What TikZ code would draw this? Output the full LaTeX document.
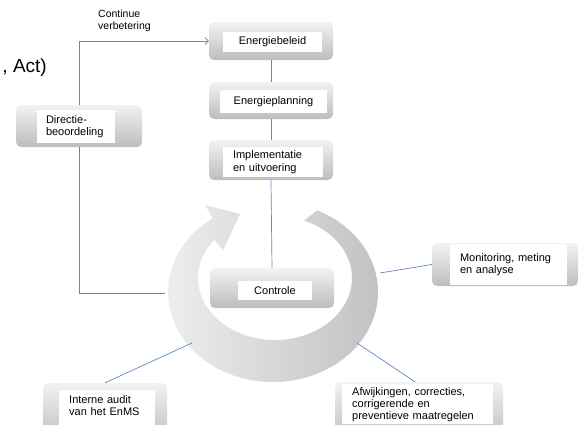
\documentclass[tikz,border=0pt]{standalone}
\usepackage{fontspec}
\setmainfont{Liberation Sans}
\usetikzlibrary{arrows.meta,calc}
\definecolor{linkblue}{RGB}{92,136,196}
\newcommand\dlabelfont{\fontsize{11}{12.5}\selectfont}
\begin{document}
\begin{tikzpicture}[x=1pt,y=-1pt,
  gbox/.style={rounded corners=5pt, top color=black!5, bottom color=black!26, draw=none, inner sep=0},
  wbox/.style={fill=white, draw=none, inner sep=0, font=\dlabelfont},
  wtext/.style={fill=white, draw=none, font=\fontsize{11}{12}\selectfont, align=left, inner xsep=10, inner ysep=3, anchor=north west},
  conn/.style={draw=linkblue, line width=0.7pt},
]
\useasboundingbox (0,0) rectangle (582,424);
\clip (0,0) rectangle (582,424);

% title fragment
\node[anchor=base east, inner sep=0, font=\fontsize{19}{22}\selectfont] (title) at (47,72) {, Act)};
\node[anchor=north west, inner sep=0, align=left, font=\fontsize{10.5}{11.5}\selectfont] (cv) at (98,10) {Continue\\verbetering};

% circular arrow
\shade[left color=black!6, right color=black!25]
  ([shift={(273,292)}]-65:105 and 90)
  arc[start angle=-65, end angle=235, x radius=105, y radius=90]
  -- (205,205) -- (240,214) -- (223,250)
  -- ([shift={(275,278)}]218:77 and 62)
  arc[start angle=218, end angle=-68, x radius=77, y radius=62]
  -- cycle;

\coordinate (rL) at (165,293);
\coordinate (rR) at (380,273);
\coordinate (rBR) at (357,343);
\coordinate (rBL) at (192,343);

% boxes
\node[gbox, minimum width=126, minimum height=42] (dir) at (79,126) {};
\node[wbox, minimum width=78, minimum height=33, text width=60, align=left] (dirt) at (76,126.5) {Directie-\\beoordeling};

\node[gbox, minimum width=124, minimum height=38] (eb) at (271,41) {};
\node[wbox, minimum width=99, minimum height=20] (ebt) at (272.5,42) {Energiebeleid};

\node[gbox, minimum width=124, minimum height=37] (ep) at (271,100.5) {};
\node[wbox, minimum width=107, minimum height=23] (ept) at (273.5,101.5) {Energieplanning};

\node[gbox, minimum width=124, minimum height=40] (im) at (271,160) {};
\node[wbox, minimum width=100, minimum height=30, text width=80, align=left] (imt) at (273,162) {Implementatie\\en uitvoering};

\node[gbox, minimum width=124, minimum height=40] (co) at (272,288) {};
\node[wbox, minimum width=74, minimum height=19] (cot) at (275,290.5) {Controle};

\node[gbox, minimum width=146, minimum height=43] (mon) at (505,264.5) {};
\node[wbox, minimum width=117, minimum height=41, text width=97, align=left] (mont) at (508.5,264.5) {Monitoring, meting\\en analyse};

\node[gbox, minimum width=168, minimum height=60] (afw) at (419,412) {};
\node[wtext, text width=131] (afwt) at (342,384) {Afwijkingen, correcties,\\corrigerende en\\preventieve maatregelen};
\fill[white] (afwt.south west) rectangle ++(151,10);

\node[gbox, minimum width=124, minimum height=60] (aud) at (105,413) {};
\node[wtext, text width=76, inner ysep=5] (audt) at (59,390) {Interne audit\\van het EnMS};
\fill[white] (audt.south west) rectangle ++(96,10);

% connectors
\draw[conn, -{Straight Barb[length=3.5pt,width=7pt]}] (dir.north) |- (eb.west);
\draw[conn] (dir.south) |- (rL);
\draw[conn] (eb.south) -- (ep.north);
\draw[conn] (ep.south) -- (im.north);
\draw[conn] (im.south) -- (co.north);
\draw[conn] (rR) -- (mon.west);
\draw[conn] (rBR) -- (afw.north -| 415,0);
\draw[conn] (rBL) -- (aud.north);
\end{tikzpicture}
\end{document}
